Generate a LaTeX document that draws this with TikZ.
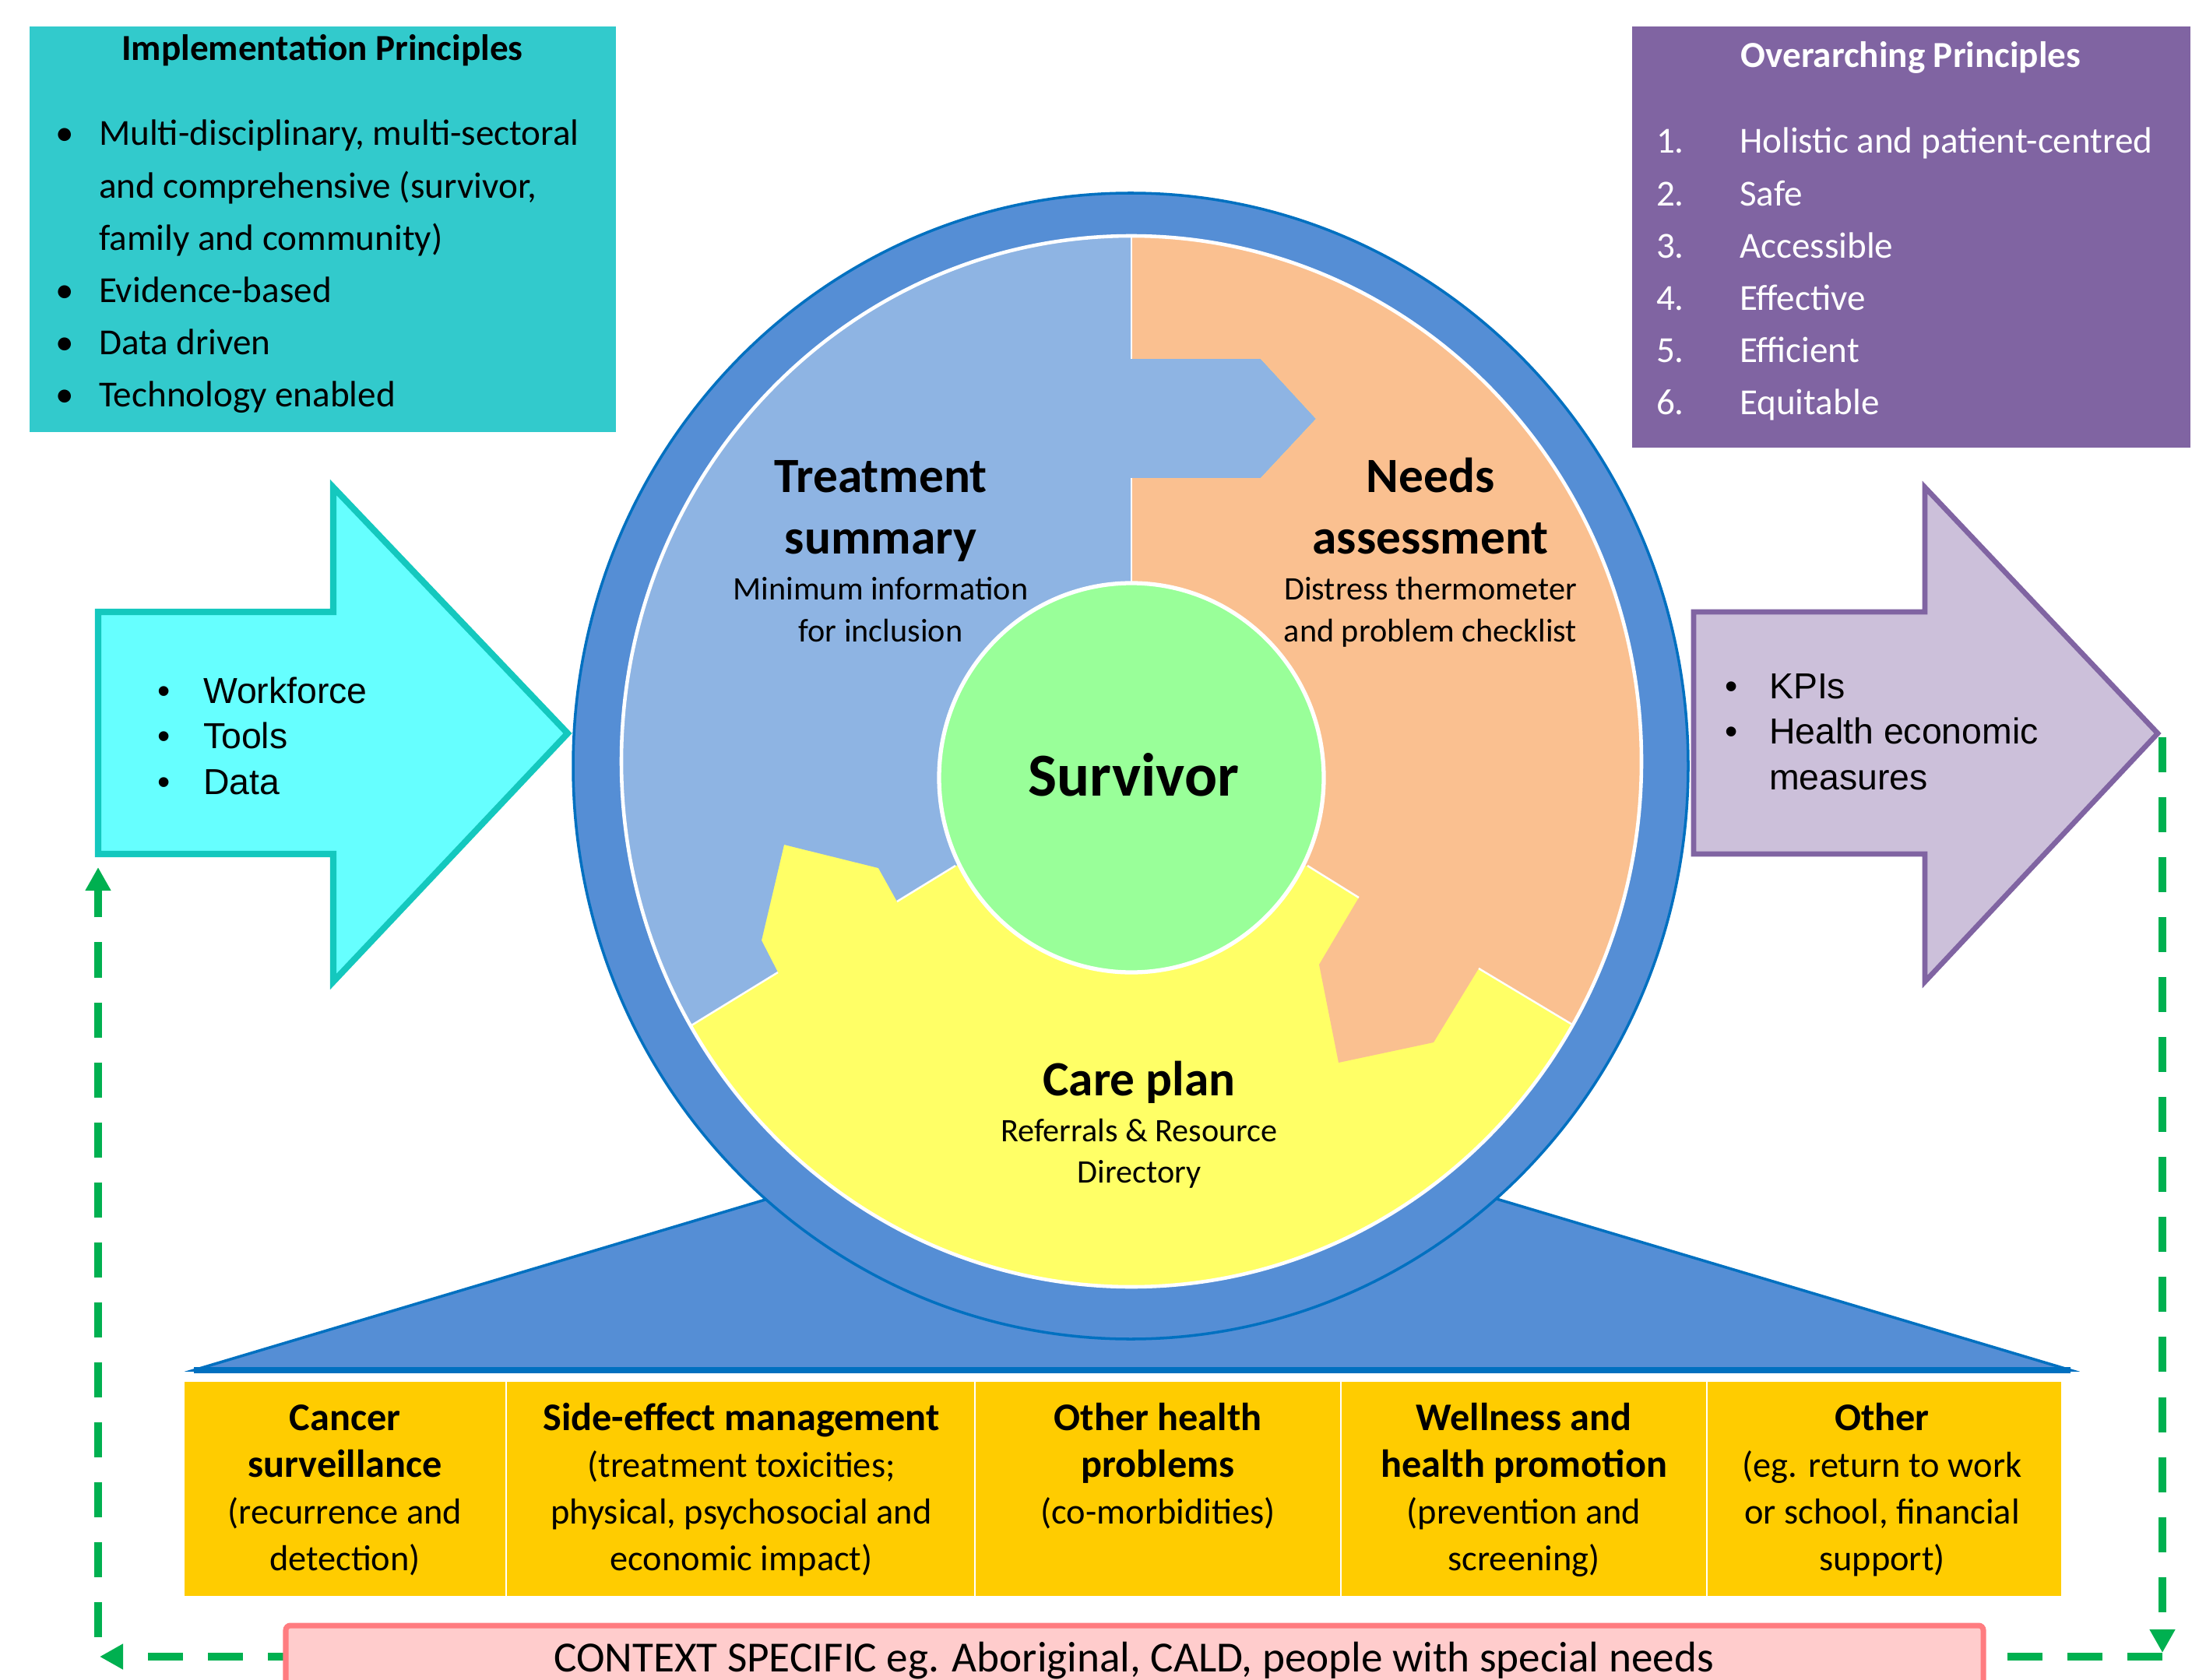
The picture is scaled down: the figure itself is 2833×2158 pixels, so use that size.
\documentclass[tikz,border=0pt]{standalone}
\usepackage{fontspec}
\setmainfont{Carlito}
\newfontfamily\arialfont{Liberation Sans}
\usetikzlibrary{arrows.meta}
\definecolor{IMPTEAL}{RGB}{50,202,204}
\definecolor{OVPURPLE}{RGB}{128,100,162}
\definecolor{INFILL}{RGB}{102,255,255}
\definecolor{INEDGE}{RGB}{20,200,190}
\definecolor{OUTFILL}{RGB}{204,192,218}
\definecolor{RINGBLUE}{RGB}{85,142,213}
\definecolor{RINGEDGE}{RGB}{0,112,192}
\definecolor{SEGBLUE}{RGB}{142,180,227}
\definecolor{SEGORANGE}{RGB}{250,192,144}
\definecolor{SEGYELLOW}{RGB}{255,255,102}
\definecolor{SEGGREEN}{RGB}{153,255,153}
\definecolor{GOLD}{RGB}{255,204,0}
\definecolor{PINKFILL}{RGB}{255,204,204}
\definecolor{PINKEDGE}{RGB}{255,124,128}
\definecolor{DASHGREEN}{RGB}{0,176,80}
\newcommand{\cstack}[1]{\begin{tabular}[t]{@{}c@{}}#1\end{tabular}}
\newcommand{\hdr}[1]{{\fontsize{14.3}{17.1}\selectfont\bfseries #1}}

\begin{document}
\begin{tikzpicture}[x=0.01cm,y=-0.01cm,>={Triangle[length=3mm,width=3.1mm]},semithick]
  \tikzstyle{every node}=[inner sep=0pt,text=black]
  \tikzstyle{feedback}=[draw=DASHGREEN,line width=2.7pt,dash pattern=on 4.5mm off 3.2mm,->]
  \tikzstyle{divider}=[white,line width=0.7pt]
  \tikzstyle{segtitle}=[anchor=base,font=\fontsize{18}{22.2}\selectfont\bfseries]
  \tikzstyle{segsub}=[anchor=base,font=\fontsize{12}{15.6}\selectfont]
  \tikzstyle{colstack}=[anchor=base,font=\fontsize{13.2}{17.1}\selectfont]
  \tikzstyle{listtext}=[anchor=base west,font=\fontsize{13.4}{19.07}\selectfont]
  \tikzstyle{arrowtext}=[anchor=base west,font=\arialfont\fontsize{13.2}{16.7}\selectfont]

  \useasboundingbox (0,0) rectangle (2833,2158);

  % principle boxes
  \fill[IMPTEAL] (38,34) rectangle (791,555);
  \fill[OVPURPLE] (2096,34) rectangle (2813,575);

  % block arrows
  \draw[INEDGE,fill=INFILL,line width=2.3pt] (126,786) -- (428,786) -- (428,626) -- (729,942)
       -- (428,1261) -- (428,1097) -- (126,1097) -- cycle;
  \draw[OVPURPLE,fill=OUTFILL,line width=1.9pt] (2175,786) -- (2472,786) -- (2472,626) -- (2771,942)
       -- (2472,1261) -- (2472,1097) -- (2175,1097) -- cycle;

  % base and ring
  \draw[RINGEDGE,fill=RINGBLUE,line width=1pt] (249,1760) -- (1100,1506) -- (1808,1506) -- (2659,1760) -- cycle;
  \draw[RINGEDGE,line width=2pt] (249,1760) -- (2659,1760);
  \draw[RINGEDGE,fill=RINGBLUE,line width=1pt] (1452,984) ellipse [x radius=716,y radius=736];

  % cycle segments
  \begin{scope}
    \clip (1453,978) ellipse [x radius=655,y radius=675];
    \fill[SEGYELLOW] (700,200) rectangle (2200,1700);
    \fill[SEGBLUE] (1453,975) -- (1453,614) -- (1619,614) -- (1690,538) -- (1619,461) -- (1453,461)
         -- (1453,200) -- (700,200) -- (700,1431) -- (999,1249) -- (978,1208) -- (1007,1085)
         -- (1128,1115) -- (1152,1158) -- cycle;
    \fill[SEGORANGE] (1453,976) -- (1453,614) -- (1619,614) -- (1690,538) -- (1619,461) -- (1453,461)
         -- (1453,200) -- (2200,200) -- (2200,1425) -- (1899,1244) -- (1841,1339) -- (1719,1365)
         -- (1694,1239) -- (1745,1153) -- cycle;
    \draw[divider] (1453,300) -- (1453,461) (1453,614) -- (1453,760);
    \draw[divider] (880,1322) -- (999,1249) (1152,1158) -- (1227,1112);
    \draw[divider] (1679,1112) -- (1745,1153) (1899,1244) -- (2029,1322);
  \end{scope}
  \draw[white,line width=1.3pt] (1453,978) ellipse [x radius=655,y radius=675];
  \draw[white,fill=SEGGREEN,line width=1.5pt] (1453,999) ellipse [x radius=247,y radius=250];

  % care areas
  \fill[GOLD] (237,1775) rectangle (2647,2050);
  \draw[white,line width=0.5pt] (650,1775) -- (650,2050) (1252,1775) -- (1252,2050)
       (1722,1775) -- (1722,2050) (2192,1775) -- (2192,2050);

  % feedback loop
  \coordinate (OUTTIP)  at (2777,947);
  \coordinate (RCORNER) at (2777,2123);
  \coordinate (BSTART)  at (2777,2128);
  \coordinate (LCORNER) at (128,2128);
  \coordinate (LSTART)  at (126,2103);
  \coordinate (INFOOT)  at (126,1114);
  \draw[feedback] (OUTTIP) -- (RCORNER);
  \draw[feedback,line width=3.1pt] (BSTART) -- (LCORNER);
  \draw[feedback] (LSTART) -- (INFOOT);

  \draw[PINKEDGE,fill=PINKFILL,line width=2pt,rounded corners=0.6mm] (367,2088) rectangle (2547,2200);

  % texts
  \node (IMPTITLE) [anchor=base,font=\fontsize{13.4}{19}\selectfont\bfseries] at (414,78) {Implementation Principles};
  \node (IMPLIST) [listtext] at (70,187) {\begin{tabular}[t]{@{}p{5.6mm}@{}l@{}}
    \textbullet & Multi-disciplinary, multi-sectoral\\
                & and comprehensive (survivor,\\
                & family and community)\\
    \textbullet & Evidence-based\\
    \textbullet & Data driven\\
    \textbullet & Technology enabled\end{tabular}};

  \node (OVTITLE) [anchor=base,text=white,font=\fontsize{13.4}{19}\selectfont\bfseries] at (2454,87) {Overarching Principles};
  \node (OVLIST) [listtext,text=white] at (2126,197) {\begin{tabular}[t]{@{}p{10.7mm}@{}l@{}}
    1. & Holistic and patient-centred\\
    2. & Safe\\
    3. & Accessible\\
    4. & Effective\\
    5. & Efficient\\
    6. & Equitable\end{tabular}};

  \node (INLIST) [arrowtext] at (201,903) {\begin{tabular}[t]{@{}p{5.9mm}@{}l@{}}
    \textbullet & Workforce\\
    \textbullet & Tools\\
    \textbullet & Data\end{tabular}};
  \node (OUTLIST) [arrowtext] at (2214,897) {\begin{tabular}[t]{@{}p{5.7mm}@{}l@{}}
    \textbullet & KPIs\\
    \textbullet & Health economic\\
                & measures\end{tabular}};

  \node (TSTITLE) [segtitle] at (1131,633) {\cstack{Treatment\\summary}};
  \node (TSSUB)   [segsub]   at (1131,770) {\cstack{Minimum information\\for inclusion}};
  \node (NATITLE) [segtitle] at (1837,633) {\cstack{Needs\\assessment}};
  \node (NASUB)   [segsub]   at (1837,770) {\cstack{Distress thermometer\\and problem checklist}};
  \node (SURVIVOR) [anchor=base,font=\fontsize{22.3}{26}\selectfont\bfseries] at (1456,1022) {Survivor};
  \node (CPTITLE) [segtitle] at (1463,1407) {Care plan};
  \node (CPSUB)   [segsub,font=\fontsize{12}{15.1}\selectfont] at (1463,1466) {\cstack{Referrals \& Resource\\Directory}};

  \node (CANCER)   [colstack] at (443,1837)  {\cstack{\hdr{Cancer}\\\hdr{surveillance}\\(recurrence and\\detection)}};
  \node (SIDEFX)   [colstack] at (952,1837)  {\cstack{\hdr{Side-effect management}\\(treatment toxicities;\\physical, psychosocial and\\economic impact)}};
  \node (OTHERHP)  [colstack] at (1487,1837) {\cstack{\hdr{Other health}\\\hdr{problems}\\(co-morbidities)}};
  \node (WELLNESS) [colstack] at (1957,1837) {\cstack{\hdr{Wellness and}\\\hdr{health promotion}\\(prevention and\\screening)}};
  \node (OTHER)    [colstack] at (2417,1837) {\cstack{\hdr{Other}\\(eg. return to work\\or school, financial\\support)}};

  \node (CONTEXT) [anchor=base,font=\fontsize{15.7}{19}\selectfont] at (1456,2147) {CONTEXT SPECIFIC eg. Aboriginal, CALD, people with special needs};
\end{tikzpicture}
\end{document}
